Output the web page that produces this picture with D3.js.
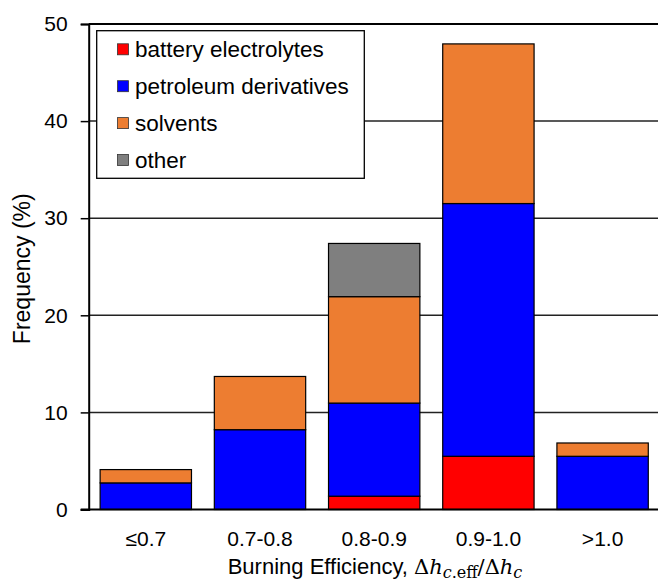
<!DOCTYPE html>
<html>
<head>
<meta charset="utf-8">
<script src="https://cdn.jsdelivr.net/npm/d3@7"></script>
<style>
  html, body { margin: 0; padding: 0; background: #fff; }
  svg { display: block; }
  text { font-family: "Liberation Sans", Arial, sans-serif; fill: #000; }
</style>
</head>
<body>
<svg id="chart" width="658" height="581"></svg>
<script>
// Burning efficiency bins
const categories = ["\u22640.7", "0.7-0.8", "0.8-0.9", "0.9-1.0", ">1.0"];

// Frequency (%) per fuel class in each bin
const battery    = [0, 0, 1.37, 5.48, 0];
const petroleum  = [2.74, 8.22, 9.59, 26.03, 5.48];
const solvents   = [1.37, 5.48, 10.96, 16.44, 1.37];
const other      = [0, 0, 5.48, 0, 0];

const seriesNames  = ["battery electrolytes", "petroleum derivatives", "solvents", "other"];
const seriesColors = ["#ff0000", "#0000ff", "#ed7d31", "#7f7f7f"];
const yTicks = [0, 10, 20, 30, 40, 50];

const rows = categories.map((c, i) => ({
  cat: c,
  s0: battery[i], s1: petroleum[i], s2: solvents[i], s3: other[i]
}));

const svg = d3.select("#chart");
const margin = { left: 88.7, right: -1.7, top: 24, bottom: 71.5 };
const W = 658, H = 581;
const FS = 21;

const x = d3.scaleBand()
  .domain(categories)
  .range([margin.left, W - margin.right])
  .paddingInner(0.2)
  .paddingOuter(0.1);

const y = d3.scaleLinear()
  .domain([0, 50])
  .range([H - margin.bottom, margin.top]);

// horizontal grid
svg.append("g")
  .selectAll("line")
  .data(yTicks.filter(d => d > 0))
  .join("line")
  .attr("x1", margin.left).attr("x2", W)
  .attr("y1", d => y(d)).attr("y2", d => y(d))
  .attr("stroke", d => d === 50 ? "#000" : "#222")
  .attr("stroke-width", d => d === 50 ? 2 : 1.5);

// stacked bars
const stack = d3.stack().keys(["s0", "s1", "s2", "s3"]);
const layers = stack(rows);

svg.append("g")
  .selectAll("g")
  .data(layers)
  .join("g")
  .attr("fill", (d, i) => seriesColors[i])
  .selectAll("rect")
  .data(d => d.filter(p => p[1] - p[0] > 0))
  .join("rect")
  .attr("x", p => x(p.data.cat))
  .attr("width", x.bandwidth())
  .attr("y", p => y(p[1]))
  .attr("height", p => y(p[0]) - y(p[1]))
  .attr("stroke", "#000")
  .attr("stroke-width", 1.2);

// y axis
const yAxis = d3.axisLeft(y).tickValues(yTicks).tickSize(8).tickPadding(13);
const gy = svg.append("g")
  .attr("transform", `translate(${margin.left},0)`)
  .call(yAxis);
gy.select(".domain").attr("stroke", "#000").attr("stroke-width", 2);
gy.selectAll(".tick line").attr("stroke", "#000").attr("stroke-width", 1.5);
gy.selectAll(".tick text")
  .attr("font-size", FS)
  .attr("font-family", "'Liberation Sans', Arial, sans-serif")
  .attr("fill", "#000");

// x axis
const xAxis = d3.axisBottom(x).tickSize(0).tickPadding(22);
const gx = svg.append("g")
  .attr("transform", `translate(0,${y(0)})`)
  .call(xAxis);
gx.select(".domain").remove();
gx.append("line")
  .attr("x1", margin.left - 8).attr("x2", W)
  .attr("y1", 0).attr("y2", 0)
  .attr("stroke", "#000").attr("stroke-width", 2.2);
gx.selectAll(".tick text")
  .attr("font-size", FS)
  .attr("font-family", "'Liberation Sans', Arial, sans-serif")
  .attr("fill", "#000");

// y axis title
svg.append("text")
  .attr("transform", `translate(29.5,${(y(0) + y(50)) / 2 + 2}) rotate(-90)`)
  .attr("text-anchor", "middle")
  .attr("font-size", 23)
  .text("Frequency (%)");

// x axis title with math notation
const xt = svg.append("text")
  .attr("x", 375)
  .attr("y", 574)
  .attr("text-anchor", "middle")
  .attr("font-size", 22);
xt.append("tspan").text("Burning Efficiency, ");
const mathFont = "'DejaVu Serif', 'Liberation Serif', serif";
const MS = 21, SS = 16;
xt.append("tspan").attr("font-family", mathFont).attr("font-size", MS).text("\u0394");
xt.append("tspan").attr("font-family", mathFont).attr("font-size", MS).attr("font-style", "italic").text("h");
xt.append("tspan").attr("font-family", mathFont).attr("font-style", "italic")
  .attr("font-size", SS).attr("dy", 4).text("c");
xt.append("tspan").attr("font-family", mathFont).attr("font-size", SS).text(".eff");
xt.append("tspan").attr("font-family", mathFont).attr("font-size", MS).attr("dy", -4).text("/\u0394");
xt.append("tspan").attr("font-family", mathFont).attr("font-size", MS).attr("font-style", "italic").text("h");
xt.append("tspan").attr("font-family", mathFont).attr("font-style", "italic")
  .attr("font-size", SS).attr("dy", 4).text("c");

// legend
const lg = svg.append("g");
lg.append("rect")
  .attr("x", 96.7).attr("y", 30.7)
  .attr("width", 267.6).attr("height", 147.6)
  .attr("fill", "#fff").attr("stroke", "#000").attr("stroke-width", 1.3);
const items = lg.selectAll("g.item")
  .data(seriesNames)
  .join("g")
  .attr("class", "item")
  .attr("transform", (d, i) => `translate(117.5,${49.3 + i * 36.9})`);
items.append("rect")
  .attr("x", 0).attr("y", -5.5)
  .attr("width", 11).attr("height", 11)
  .attr("fill", (d, i) => seriesColors[i])
  .attr("stroke", "#333").attr("stroke-width", 0.8);
items.append("text")
  .attr("x", 17.5).attr("y", 0)
  .attr("dy", "0.35em")
  .attr("font-size", 22.5)
  .text(d => d);
</script>
</body>
</html>
